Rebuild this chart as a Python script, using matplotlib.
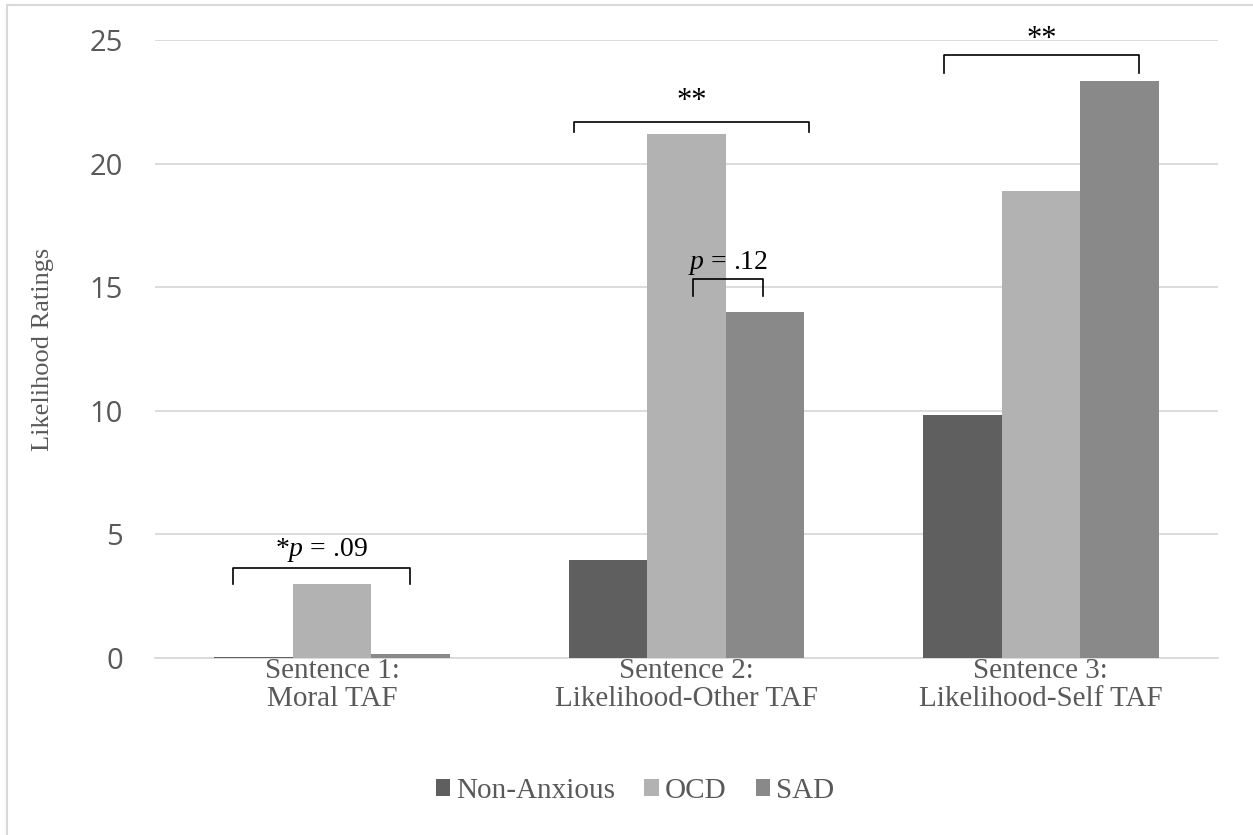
import matplotlib
matplotlib.use("Agg")
import matplotlib.pyplot as plt
from matplotlib.patches import Patch, Rectangle
import numpy as np

categories = ["Sentence 1:\nMoral TAF", "Sentence 2:\nLikelihood-Other TAF", "Sentence 3:\nLikelihood-Self TAF"]
groups = ["Non-Anxious", "OCD", "SAD"]
non_anxious = [0.05, 3.95, 9.85]
ocd = [3.0, 21.2, 18.9]
sad = [0.15, 14.0, 23.35]
colors = ["#5f5f5f", "#b2b2b2", "#898989"]
yticks = [0, 5, 10, 15, 20, 25]

# significance brackets: (x_left, x_right, y_bar, y_end, label, y_text)
brackets = [
    (-0.281, 0.219, 3.64, 3.0, r"*$\it{p}$ = .09", 4.35),
    (0.682, 1.346, 21.68, 21.28, "**", 22.5),
    (1.017, 1.216, 15.33, 14.64, r"$\it{p}$ = .12", 15.98),
    (1.727, 2.278, 24.39, 23.67, "**", 25.0),
]

serif = "Liberation Serif"
plt.rcParams["mathtext.fontset"] = "custom"
plt.rcParams["mathtext.it"] = "Liberation Serif:italic"
plt.rcParams["mathtext.rm"] = "Liberation Serif"

fig = plt.figure(figsize=(12.53, 8.35), dpi=100)
ax = fig.add_axes([155/1253, 1 - 658/835, (1218-155)/1253, (658-40)/835])

x = np.arange(len(categories))
w = 0.222
for i, (vals, c) in enumerate(zip([non_anxious, ocd, sad], colors)):
    ax.bar(x + (i - 1) * w, vals, width=w, color=c, zorder=3)

ax.set_xlim(-0.5, 2.5)
ax.set_ylim(0, 25)
ax.set_yticks(yticks)
ax.set_yticklabels([str(t) for t in yticks], fontsize=21, color="#595959", family="Open Sans")
ax.tick_params(axis="y", length=0, pad=23)
ax.tick_params(axis="x", length=0, pad=0)
ax.set_xticks(x)
ax.set_xticklabels(categories, fontsize=21, color="#595959", family=serif, linespacing=1.1)
ax.yaxis.grid(True, color="#d9d9d9", linewidth=1.3, zorder=0)
for s in ["top", "right", "left"]:
    ax.spines[s].set_visible(False)
ax.spines["bottom"].set_color("#d9d9d9")
ax.spines["bottom"].set_linewidth(1.3)
ax.set_ylabel("Likelihood Ratings", fontsize=19, color="#595959", family=serif, labelpad=26)

for xl, xr, yb, ye, lab, yt in brackets:
    ax.plot([xl, xl, xr, xr], [ye, yb, yb, ye], color="black", linewidth=1.2, zorder=4, clip_on=False)
    fs = 22 if lab == "**" else 20
    ax.text((xl + xr) / 2, yt, lab, ha="center", va="center", fontsize=fs, family=serif, color="black", clip_on=False)

handles = [Patch(facecolor=c, edgecolor="none", label=g) for g, c in zip(groups, colors)]
leg = fig.legend(handles=handles, loc="center", bbox_to_anchor=(635/1253, 1 - 791/835), ncol=3, frameon=False,
                 prop={"family": serif, "size": 21}, handlelength=0.5, handleheight=0.5,
                 handletextpad=0.2, columnspacing=1.0, labelcolor="#595959")

fig.patches.append(Rectangle((7/1253, -0.05), 1.1, 1 - 5/835 + 0.05, transform=fig.transFigure,
                             fill=False, edgecolor="#d9d9d9", linewidth=1.5))

fig.savefig("out.png", dpi=100)
